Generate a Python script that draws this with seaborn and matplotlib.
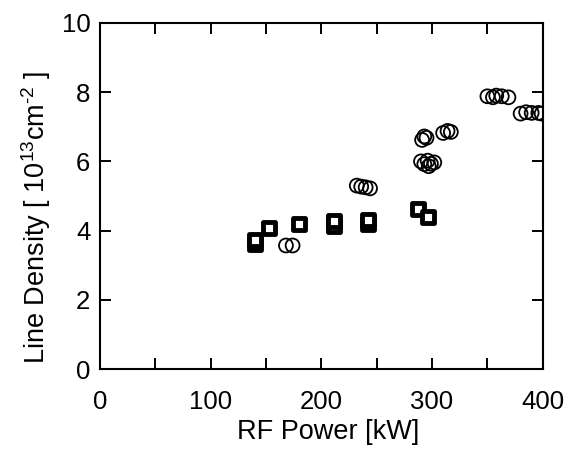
import matplotlib
matplotlib.use("Agg")
import matplotlib.pyplot as plt
import seaborn as sns
import pandas as pd

# Open squares
sq_power = [140, 140, 153, 180, 211, 211, 242, 242, 287, 296]
sq_density = [3.60, 3.72, 4.07, 4.18, 4.13, 4.28, 4.18, 4.32, 4.63, 4.40]

# Open circles
ci_power = [168, 174,
            232, 236, 240, 244,
            290, 293, 296, 299, 302, 297,
            291, 295, 293, 310, 314, 317,
            350, 355, 358, 363, 369,
            380, 385, 390, 396, 399]
ci_density = [3.57, 3.57,
              5.30, 5.27, 5.25, 5.22,
              6.00, 5.92, 6.02, 5.93, 5.97, 5.86,
              6.62, 6.68, 6.72, 6.82, 6.88, 6.85,
              7.88, 7.85, 7.90, 7.88, 7.85,
              7.38, 7.42, 7.40, 7.40, 7.38]

x_ticks = [0, 50, 100, 150, 200, 250, 300, 350, 400]
x_tick_labels = ["0", "", "100", "", "200", "", "300", "", "400"]
y_ticks = [0, 2, 4, 6, 8, 10]

sns.set_theme(style="ticks")
plt.rcParams["font.family"] = ["Liberation Sans", "DejaVu Sans"]
plt.rcParams["mathtext.fontset"] = "custom"
plt.rcParams["mathtext.rm"] = "Liberation Sans"
plt.rcParams["mathtext.it"] = "Liberation Sans:italic"
plt.rcParams["text.color"] = "black"
plt.rcParams["axes.labelcolor"] = "black"

squares = pd.DataFrame({"power": sq_power, "density": sq_density})
circles = pd.DataFrame({"power": ci_power, "density": ci_density})

fig = plt.figure(figsize=(5.78, 4.49), dpi=100)
ax = fig.add_axes([0.173, 0.178, 0.766, 0.771])

sns.scatterplot(data=circles, x="power", y="density", ax=ax, marker="o",
                s=100, facecolors="none", edgecolor="black", linewidth=1.3,
                zorder=3)
sns.scatterplot(data=squares, x="power", y="density", ax=ax, marker="s",
                s=85, facecolor="white", edgecolor="black", linewidth=3.5,
                zorder=4)

ax.set_xlim(0, 400)
ax.set_ylim(0, 10)
ax.set_xticks(x_ticks)
ax.set_xticklabels(x_tick_labels)
ax.set_yticks(y_ticks)
ax.tick_params(direction="in", length=8, width=1.4, labelsize=18.5,
               colors="black", labelcolor="black", top=True, right=True)
ax.tick_params(axis="x", pad=15)
ax.tick_params(axis="y", pad=7)
for sp in ax.spines.values():
    sp.set_linewidth(1.5)
    sp.set_color("black")

ax.set_xlabel("RF Power [kW]", fontsize=19.5)
ax.set_ylabel(r"Line Density [ $\mathregular{10^{13}cm^{\text{-}2}}$ ]",
              fontsize=19.5)
ax.xaxis.set_label_coords(0.515, -0.145)
ax.yaxis.set_label_coords(-0.106, 0.438)

fig.savefig("out.png", dpi=100, facecolor="white")
